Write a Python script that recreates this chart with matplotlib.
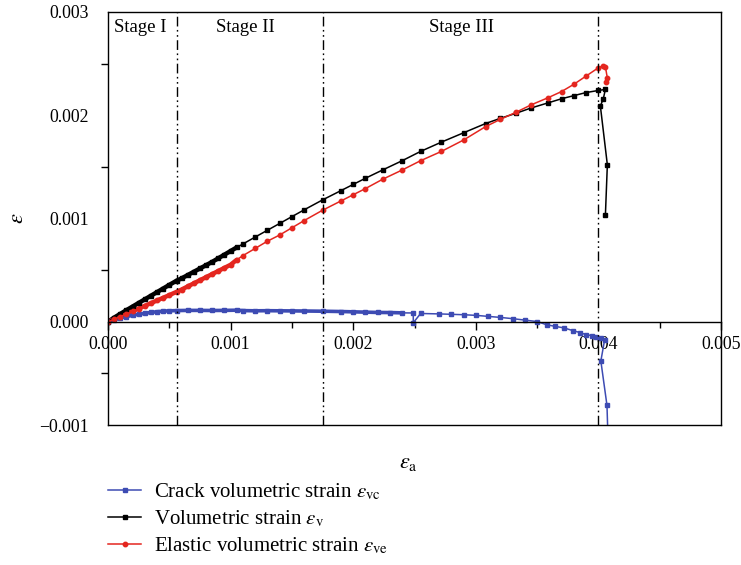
import numpy as np
import matplotlib
matplotlib.use('Agg')
import matplotlib.pyplot as plt
from matplotlib.ticker import MultipleLocator, FuncFormatter

plt.rcParams['font.family'] = 'serif'
plt.rcParams['font.serif'] = ['Liberation Serif', 'DejaVu Serif']
plt.rcParams['mathtext.fontset'] = 'stix'

# values in units of 1e-3
vol_x = [0, 0.05, 0.1, 0.15, 0.2, 0.25, 0.3, 0.35, 0.4, 0.45, 0.5, 0.56, 0.6, 0.65,
         0.7, 0.75, 0.8, 0.85, 0.9, 0.95, 1.0, 1.05,
         1.1, 1.2, 1.3, 1.4, 1.5, 1.6, 1.75, 1.9, 2.0, 2.1, 2.24, 2.4, 2.55, 2.72,
         2.9, 3.08, 3.2, 3.33, 3.45, 3.59, 3.7, 3.8, 3.9, 4.0, 4.057, 4.04, 4.016,
         4.073, 4.057]
vol_y = [0, 0.04, 0.076, 0.112, 0.147, 0.182, 0.217, 0.252, 0.287, 0.322, 0.357, 0.398, 0.42, 0.452,
         0.484, 0.516, 0.548, 0.58, 0.615, 0.65, 0.685, 0.72,
         0.753, 0.82, 0.886, 0.952, 1.018, 1.084, 1.18, 1.27, 1.33, 1.39, 1.47, 1.56, 1.65, 1.74,
         1.83, 1.92, 1.97, 2.02, 2.07, 2.12, 2.16, 2.19, 2.22, 2.24, 2.25, 2.16, 2.09,
         1.52, 1.03]

ela_x = [0, 0.05, 0.1, 0.15, 0.2, 0.25, 0.3, 0.35, 0.4, 0.45, 0.5, 0.56, 0.6, 0.65,
         0.7, 0.75, 0.8, 0.85, 0.9, 0.95, 1.0, 1.05,
         1.1, 1.2, 1.3, 1.4, 1.5, 1.6, 1.75, 1.9, 2.0, 2.1, 2.24, 2.4, 2.55, 2.72,
         2.9, 3.08, 3.2, 3.33, 3.45, 3.59, 3.7, 3.8, 3.9, 4.0, 4.04, 4.057, 4.073,
         4.065]
ela_y = [0, 0.025, 0.05, 0.076, 0.102, 0.128, 0.154, 0.18, 0.206, 0.232, 0.258, 0.29, 0.312, 0.342,
         0.372, 0.402, 0.432, 0.462, 0.492, 0.522, 0.552, 0.6,
         0.64, 0.71, 0.78, 0.84, 0.91, 0.98, 1.08, 1.17, 1.23, 1.29, 1.38, 1.47, 1.56, 1.65,
         1.76, 1.89, 1.96, 2.03, 2.1, 2.17, 2.23, 2.3, 2.38, 2.46, 2.48, 2.47, 2.36,
         2.32]

crack_x = [0, 0.05, 0.1, 0.15, 0.2, 0.25, 0.3, 0.35, 0.4, 0.45, 0.5, 0.56, 0.65, 0.75,
           0.85, 0.95, 1.05, 1.1, 1.2, 1.3, 1.4, 1.5, 1.6, 1.75, 1.9, 2.0, 2.1, 2.2,
           2.3, 2.4, 2.49, 2.49, 2.55, 2.7, 2.8, 2.9, 3.0, 3.1, 3.2, 3.3, 3.4, 3.5,
           3.58, 3.65, 3.72, 3.79, 3.85, 3.9, 3.95, 3.98, 4.02, 4.05, 4.02, 4.07, 4.08]
crack_y = [0, 0.02, 0.036, 0.05, 0.062, 0.073, 0.082, 0.09, 0.097, 0.102, 0.106, 0.108, 0.11, 0.11,
           0.109, 0.11, 0.112, 0.108, 0.106, 0.107, 0.106, 0.105, 0.104, 0.102, 0.099, 0.096, 0.093, 0.09,
           0.089, 0.086, 0.085, -0.01, 0.08, 0.076, 0.072, 0.068, 0.062, 0.052, 0.042, 0.03, 0.016, 0.002,
           -0.03, -0.045, -0.06, -0.085, -0.105, -0.125, -0.135, -0.148, -0.16, -0.18, -0.38, -0.81, -1.2]

stage_bounds = [0.56, 1.75, 4.0]
stage_names = ['Stage I', 'Stage II', 'Stage III']
stage_label_x = [0.26, 1.12, 2.88]

blue = '#3d4bb3'
red = '#e4261f'

sc = 1e-3
fig = plt.figure(figsize=(7.41, 5.65), dpi=100)
ax = fig.add_axes([108 / 741, 1 - 425 / 565, (721 - 108) / 741, (425 - 12) / 565])

vx, vy = np.array(vol_x) * sc, np.array(vol_y) * sc
ex, ey = np.array(ela_x) * sc, np.array(ela_y) * sc
cx, cy = np.array(crack_x) * sc, np.array(crack_y) * sc

# dense early parts look like thick lines
ax.plot(vx[:22], vy[:22], color='black', lw=3.2, solid_capstyle='round')
ax.plot(ex[:22], ey[:22], color=red, lw=3.2, solid_capstyle='round')
ax.plot(cx[:30], cy[:30], color=blue, lw=2.6, solid_capstyle='round')

l1, = ax.plot(cx, cy, color=blue, lw=1.1, marker='s', ms=2.8)
l2, = ax.plot(vx, vy, color='black', lw=1.1, marker='s', ms=2.8)
l3, = ax.plot(ex, ey, color=red, lw=1.1, marker='o', ms=3.2)

for b in stage_bounds:
    ax.axvline(b * sc, color='black', lw=1.0, ls=(0, (7, 2.5, 1.2, 2.5, 1.2, 2.5)))
for name, lx in zip(stage_names, stage_label_x):
    ax.text(lx * sc, 0.00285, name, ha='center', va='center', fontsize=13.5)

ax.set_xlim(0, 0.005)
ax.set_ylim(-0.001, 0.003)

ax.spines['bottom'].set_position(('data', 0))
ax.axhline(-0.001, color='black', lw=1.0, clip_on=False)
for s in ['left', 'top', 'bottom', 'right']:
    ax.spines[s].set_linewidth(1.0)

fmt = FuncFormatter(lambda v, p: ('%.3f' % v).replace('-', '\u2212') if abs(v) > 1e-9 else '0.000')
ax.xaxis.set(major_locator=MultipleLocator(0.001), minor_locator=MultipleLocator(0.0005),
             major_formatter=fmt)
ax.yaxis.set(major_locator=MultipleLocator(0.001), minor_locator=MultipleLocator(0.0005),
             major_formatter=fmt)
ax.tick_params(which='both', direction='out', labelsize=12.8, width=1.0)
ax.tick_params(which='major', length=6, pad=4)
ax.tick_params(which='minor', length=4)
ax.tick_params(axis='y', pad=14)
ax.tick_params(axis='y', which='major', length=0)
ax.tick_params(axis='y', which='minor', length=5)

ax.set_xlabel(r'$\varepsilon_\mathrm{a}$', fontsize=16)
ax.xaxis.set_label_coords(0.49, -0.07)
ax.set_ylabel(r'$\varepsilon$', fontsize=16, rotation=90)
ax.yaxis.set_label_coords(-0.13, 0.5)

fig.legend([l1, l2, l3],
           [r'Crack volumetric strain $\varepsilon_\mathrm{vc}$',
            r'Volumetric strain $\varepsilon_\mathrm{v}$',
            r'Elastic volumetric strain $\varepsilon_\mathrm{ve}$'],
           loc='upper left', bbox_to_anchor=(108 / 741, 1 - 482 / 565),
           frameon=False, fontsize=15, handlelength=1.6, handletextpad=0.6,
           labelspacing=0.3, borderaxespad=0, borderpad=0)

fig.savefig('out.png', dpi=100, facecolor='white')
